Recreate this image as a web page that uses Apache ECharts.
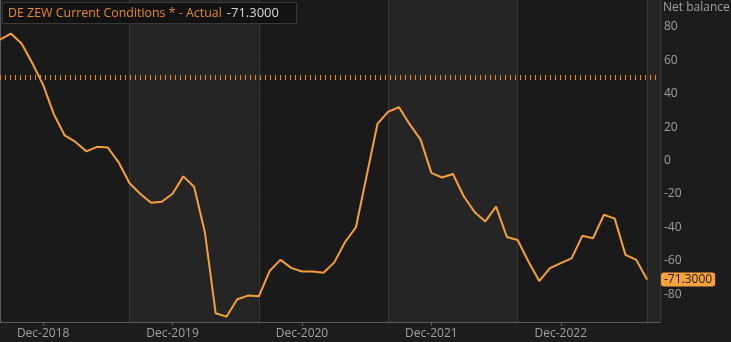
<!DOCTYPE html>
<html><head><meta charset="utf-8">
<script src="https://cdn.jsdelivr.net/npm/echarts@6/dist/echarts.min.js"></script>
<style>html,body{margin:0;padding:0;background:#1c1c1c;}#c{width:731px;height:342px;}</style>
</head><body><div id="c"></div>
<script>
const months = [];
(function(){const n=['Jan','Feb','Mar','Apr','May','Jun','Jul','Aug','Sep','Oct','Nov','Dec'];let m=7,y=2018;for(let i=0;i<61;i++){months.push(n[m]+'-'+y);m++;if(m>11){m=0;y++;}}})();
const values = [72.4,76.0,70.1,58.2,45.3,
 27.6,15.0,11.1,5.5,8.2,7.8,-1.1,-13.5,-19.9,-25.3,-24.7,-19.9,
 -9.5,-15.7,-43.1,-91.5,-93.5,-83.1,-80.9,-81.3,-66.2,-59.5,-64.3,-66.5,
 -66.4,-67.2,-61.0,-48.8,-40.1,-9.1,21.9,29.3,31.9,21.6,12.5,-7.4,
 -10.2,-8.1,-21.4,-30.8,-36.5,-27.6,-45.8,-47.6,-60.5,-72.2,-64.5,-61.4,
 -58.6,-45.1,-46.5,-32.5,-34.8,-56.5,-59.5,-71.3];
const tickLabels = ['Dec-2018','Dec-2019','Dec-2020','Dec-2021','Dec-2022'];
const tickMonths = tickLabels.map(t => months.indexOf(t));
const refLevel = 50;
const lastValue = values[values.length-1];
const titleText = 'DE ZEW Current Conditions * - Actual';
const unitText = 'Net balance';

const chart = echarts.init(document.getElementById('c'));
const F = '"Open Sans", sans-serif';
chart.setOption({
  backgroundColor: '#1c1c1c',
  animation: false,
  title: [{
    text: '{a|' + titleText + '} {b|' + lastValue.toFixed(4) + '}',
    left: 2, top: 2, padding: [2, 18, 2, 6],
    backgroundColor: '#121212', borderColor: '#3a3a3a', borderWidth: 1,
    textStyle: { fontWeight: 'normal', rich: {
      a: { color: '#e8892f', fontSize: 12.4, fontWeight: 'normal', fontFamily: F },
      b: { color: '#d8d8d8', fontSize: 13, fontWeight: 'normal', fontFamily: F }
    }}
  }, {
    text: unitText, left: 663, top: 2, padding: 0,
    textStyle: { color: '#a0a0a0', fontSize: 12, fontWeight: 'normal', fontFamily: F }
  }],
  grid: { left: 0, right: 71, top: 0, bottom: 20, containLabel: false },
  xAxis: [{
    type: 'value', min: 0, max: 61.2, interval: 12,
    axisLine: { show: true, onZero: false, lineStyle: { color: '#5c5c5c', width: 1 } },
    axisTick: { show: false }, axisLabel: { show: false },
    splitLine: { show: true, lineStyle: { color: '#3a3a3a', width: 1 } },
    splitArea: { show: true, areaStyle: { color: ['#1a1a1a', '#252525'] } }
  }, {
    type: 'value', min: 0, max: 61.2, position: 'bottom',
    axisLine: { show: false, onZero: false },
    axisTick: { show: true, length: 4, lineStyle: { color: '#5c5c5c' }, customValues: tickMonths },
    axisLabel: { show: true, color: '#a0a0a0', fontSize: 12, fontFamily: F, margin: 6,
      customValues: tickMonths, formatter: v => months[Math.round(v)] },
    splitLine: { show: false }
  }],
  yAxis: {
    type: 'value', position: 'right', min: -96.7, max: 96.1, splitNumber: 10,
    axisLine: { show: true, lineStyle: { color: '#5c5c5c' } },
    axisTick: { show: false },
    axisLabel: { color: '#a0a0a0', fontSize: 12, fontFamily: F, margin: 4, showMinLabel: false, showMaxLabel: false },
    splitLine: { show: true, lineStyle: { color: '#363636', width: 1 } },
    axisPointer: {
      show: true, value: lastValue, status: 'show', type: 'line', triggerTooltip: false,
      lineStyle: { opacity: 0 },
      label: { show: true, backgroundColor: '#f7a23e', color: '#1a1a1a', fontSize: 12, fontFamily: F,
        padding: [1, 3], margin: 1, formatter: p => Number(p.value).toFixed(4) },
      handle: { show: false }
    }
  },
  series: [{
    type: 'line', xAxisIndex: 0,
    data: values.map((v, i) => [i, v]),
    symbol: 'none',
    lineStyle: { color: '#f5a03c', width: 2 },
    markLine: {
      silent: true, symbol: 'none', label: { show: false },
      lineStyle: { color: '#e8892f', width: 5, type: [1, 4], opacity: 1 },
      data: [{ yAxis: refLevel }]
    }
  }]
});
</script></body></html>
